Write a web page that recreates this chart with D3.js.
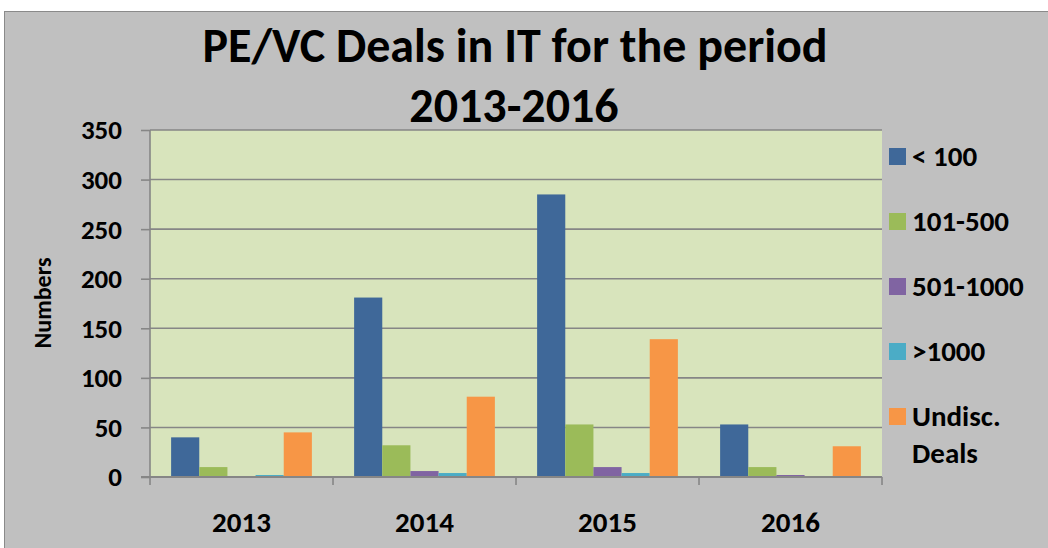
<!DOCTYPE html>
<meta charset="utf-8">
<script src="https://d3js.org/d3.v7.min.js"></script>
<style>
  body { margin: 0; background: #fff; }
  text { font-family: Carlito, Calibri, "Liberation Sans", sans-serif; font-weight: bold; fill: #000; }
</style>
<body>
<svg width="1048" height="548"></svg>
<script>
    // ---------------- data ----------------
    var years   = ["2013", "2014", "2015", "2016"];
    var series  = ["< 100", "101-500", "501-1000", ">1000", "Undisc. Deals"];
    var under100   = [40, 181, 285, 53];
    var d101to500  = [10, 32, 53, 10];
    var d501to1000 = [0, 6, 10, 2];
    var over1000   = [2, 4, 4, 0];
    var undisc     = [45, 81, 139, 31];
    var yTicks  = [0, 50, 100, 150, 200, 250, 300, 350];
    var colors  = ["#3f6899", "#9bbb59", "#8064a2", "#4bacc6", "#f79646"];

    var values = [under100, d101to500, d501to1000, over1000, undisc];

    var svg = d3.select('svg');
    var plot = { left: 150, right: 882, top: 130, bottom: 477 };
    var gridColor = '#868686';

    // chart background with border
    svg.append('rect').attr('x', 4.5).attr('y', 11.5).attr('width', 1060).attr('height', 560)
        .attr('fill', '#c0c0c0').attr('stroke', '#8a8a8a').attr('stroke-width', 1);

    // plot area
    svg.append('rect').attr('x', plot.left).attr('y', plot.top)
        .attr('width', plot.right - plot.left).attr('height', plot.bottom - plot.top)
        .attr('fill', '#d8e4bc');

    var y = d3.scaleLinear().domain([0, 350]).range([plot.bottom, plot.top]);
    var x0 = d3.scaleBand().domain(years).range([plot.left, plot.right]);
    var bw = x0.bandwidth();
    var barW = bw / (series.length + 1.5);   // excel gap width 150%
    var x1 = d3.scaleBand().domain(series).range([barW * 0.75, bw - barW * 0.75]);

    // gridlines
    svg.append('g').selectAll('line').data(yTicks.filter(function(d){ return d > 0; }))
        .enter().append('line')
        .attr('x1', plot.left).attr('x2', plot.right)
        .attr('y1', function(d){ return y(d); }).attr('y2', function(d){ return y(d); })
        .attr('stroke', gridColor).attr('stroke-width', 1.6);

    // bars
    var groups = svg.append('g').selectAll('g').data(years).enter().append('g')
        .attr('transform', function(d){ return 'translate(' + x0(d) + ',0)'; });
    groups.selectAll('rect')
        .data(function(d, i){ return series.map(function(s, j){ return { s: s, j: j, v: values[j][i] }; }); })
        .enter().append('rect')
        .attr('x', function(d){ return x1(d.s); })
        .attr('width', x1.bandwidth())
        .attr('y', function(d){ return y(d.v); })
        .attr('height', function(d){ return y(0) - y(d.v); })
        .attr('fill', function(d){ return colors[d.j]; });

    // y axis
    var yAxis = svg.append('g').attr('transform', 'translate(' + plot.left + ',0)')
        .call(d3.axisLeft(y).tickValues(yTicks).tickSize(9).tickPadding(19));
    yAxis.select('.domain').remove();
    yAxis.selectAll('.tick line').attr('stroke', gridColor).attr('stroke-width', 1.6);
    yAxis.selectAll('.tick text').attr('font-size', 27).attr('font-family', null)
        .attr('dy', '0.33em');

    // x axis
    var xAxis = svg.append('g').attr('transform', 'translate(0,' + plot.bottom + ')')
        .call(d3.axisBottom(x0).tickSize(0));
    xAxis.select('.domain').remove();
    xAxis.selectAll('.tick text').attr('font-size', 29).attr('font-family', null)
        .attr('y', 55).attr('dy', null);
    xAxis.append('g').selectAll('line').data(years.concat(['end'])).enter().append('line')
        .attr('x1', function(d){ return d == 'end' ? plot.right : x0(d); })
        .attr('x2', function(d){ return d == 'end' ? plot.right : x0(d); })
        .attr('y1', 0).attr('y2', 8)
        .attr('stroke', gridColor).attr('stroke-width', 1.6);

    // axis lines
    svg.append('line').attr('x1', plot.left).attr('x2', plot.left).attr('y1', plot.top).attr('y2', plot.bottom)
        .attr('stroke', gridColor).attr('stroke-width', 1.6);
    svg.append('line').attr('x1', plot.left - 9).attr('x2', plot.right).attr('y1', plot.bottom).attr('y2', plot.bottom)
        .attr('stroke', gridColor).attr('stroke-width', 2);

    // y axis title
    svg.append('text').attr('transform', 'translate(51,303) rotate(-90)')
        .attr('text-anchor', 'middle').attr('font-size', 24).text('Numbers');

    // chart title
    svg.append('text').attr('x', 515).attr('y', 62).attr('text-anchor', 'middle')
        .attr('font-size', 48).text('PE/VC Deals in IT for the period');
    svg.append('text').attr('x', 514).attr('y', 122).attr('text-anchor', 'middle')
        .attr('font-size', 48).text('2013-2016');

    // legend
    var legend = svg.append('g').selectAll('g').data(series).enter().append('g')
        .attr('transform', function(d, i){ return 'translate(889,' + (148 + i * 65) + ')'; });
    legend.append('rect').attr('width', 17).attr('height', 17)
        .attr('fill', function(d, i){ return colors[i]; });
    legend.append('text').attr('x', 23).attr('y', 17.5).attr('font-size', 29)
        .each(function(d){
            var parts = d.split(' ');
            var t = d3.select(this);
            if (d.indexOf('Undisc') === 0) {
                t.append('tspan').attr('x', 23).text(parts[0]);
                t.append('tspan').attr('x', 23).attr('dy', 37).text(parts[1]);
            } else {
                t.text(d);
            }
        });
</script>
</body>
